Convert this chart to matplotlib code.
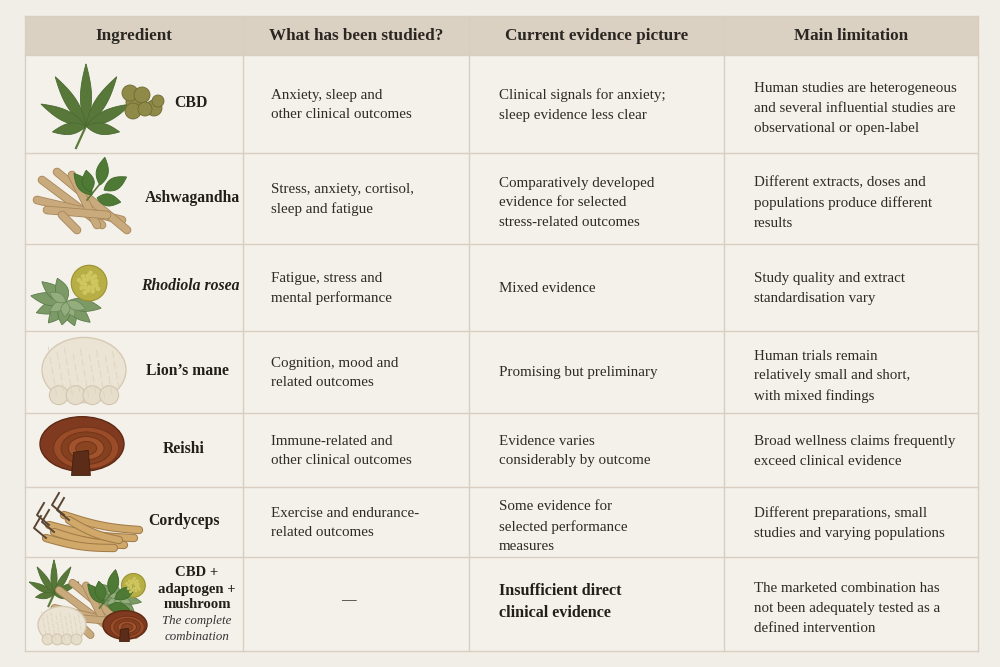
import numpy as np
import matplotlib
matplotlib.use("Agg")
import matplotlib.pyplot as plt
from matplotlib.patches import Rectangle, Ellipse, Polygon, Circle

# ---------------- data ----------------
headers = ["Ingredient", "What has been studied?", "Current evidence picture", "Main limitation"]
ingredients = ["CBD", "Ashwagandha", "Rhodiola rosea", "Lion\u2019s mane", "Reishi", "Cordyceps",
               "CBD +\nadaptogen +\nmushroom"]
combo_note = "The complete\ncombination"
studied = ["Anxiety, sleep and\nother clinical outcomes",
           "Stress, anxiety, cortisol,\nsleep and fatigue",
           "Fatigue, stress and\nmental performance",
           "Cognition, mood and\nrelated outcomes",
           "Immune-related and\nother clinical outcomes",
           "Exercise and endurance-\nrelated outcomes",
           "\u2014"]
evidence = ["Clinical signals for anxiety;\nsleep evidence less clear",
            "Comparatively developed\nevidence for selected\nstress-related outcomes",
            "Mixed evidence",
            "Promising but preliminary",
            "Evidence varies\nconsiderably by outcome",
            "Some evidence for\nselected performance\nmeasures",
            "Insufficient direct\nclinical evidence"]
limitation = ["Human studies are heterogeneous\nand several influential studies are\nobservational or open-label",
              "Different extracts, doses and\npopulations produce different\nresults",
              "Study quality and extract\nstandardisation vary",
              "Human trials remain\nrelatively small and short,\nwith mixed findings",
              "Broad wellness claims frequently\nexceed clinical evidence",
              "Different preparations, small\nstudies and varying populations",
              "The marketed combination has\nnot been adequately tested as a\ndefined intervention"]

# ---------------- layout ----------------
W, H = 1000, 667
fig = plt.figure(figsize=(10, 6.67), dpi=100)
ax = fig.add_axes([0, 0, 1, 1])
ax.set_xlim(0, W)
ax.set_ylim(H, 0)
ax.axis("off")
BG = "#f1eee7"
fig.patch.set_facecolor(BG)

x_edges = [25, 243, 469, 724, 978]
y_edges = [16, 55, 153, 244, 331, 413, 487, 557, 651]
LINE = "#d8cfc2"
TXT = "#2e2b27"
SERIF = ["Liberation Serif", "DejaVu Serif"]
LS = 1.66
OFF = {1: 0.5, 2: 1.0, 3: 4.5}

# table body & header
ax.add_patch(Rectangle((x_edges[0], y_edges[1]), x_edges[-1] - x_edges[0], y_edges[-1] - y_edges[1],
                       facecolor="#f4f1ea", edgecolor="none", zorder=1))
ax.add_patch(Rectangle((x_edges[0], y_edges[0]), x_edges[-1] - x_edges[0], y_edges[1] - y_edges[0],
                       facecolor="#dad1c3", edgecolor="none", zorder=1))
for x in x_edges:
    ax.plot([x, x], [y_edges[0], y_edges[-1]], color=LINE, lw=1.0, zorder=2)
for y in y_edges:
    ax.plot([x_edges[0], x_edges[-1]], [y, y], color=LINE, lw=1.0, zorder=2)

# headers
for i, h in enumerate(headers):
    ax.text((x_edges[i] + x_edges[i + 1]) / 2, (y_edges[0] + y_edges[1]) / 2 + 1, h,
            ha="center", va="center", fontsize=12.3, fontweight="bold", color="#2a2621",
            family=SERIF, zorder=5)


def body(x, yc, s, **kw):
    n = s.count("\n") + 1
    ax.text(x, yc + OFF[n], s, ha="left", va="center", fontsize=10.8, color=TXT,
            family=SERIF, linespacing=LS, zorder=5, **kw)


name_x = [191, 192, 190, 187, 184, 184, 197]
col_left = [271, 499, 754]
for r in range(7):
    yc = (y_edges[r + 1] + y_edges[r + 2]) / 2
    if r < 6:
        ax.text(name_x[r], yc - 1, ingredients[r], ha="center", va="center", fontsize=11.3,
                fontweight="bold", fontstyle="italic" if r == 2 else "normal",
                color="#221f1b", family=SERIF, zorder=5)
    else:
        ax.text(name_x[r], 589, ingredients[r], ha="center", va="center", fontsize=10.6,
                fontweight="bold", color="#221f1b", family=SERIF, linespacing=1.3, zorder=5)
        ax.text(name_x[r], 629, combo_note, ha="center", va="center", fontsize=9.3,
                fontstyle="italic", color="#333", family=SERIF, linespacing=1.45, zorder=5)
    # column 2
    if r < 6:
        body(col_left[0], yc, studied[r])
    else:
        ax.text(348, yc - 3, studied[r], ha="center", va="center", fontsize=10.5,
                color=TXT, family=SERIF, zorder=5)
    # column 3
    if r < 6:
        body(col_left[1], yc, evidence[r])
    else:
        ax.text(col_left[1], yc - 2, evidence[r], ha="left", va="center", fontsize=11.6,
                fontweight="bold", color="#221f1b", family=SERIF, linespacing=1.45, zorder=5)
    # column 4
    body(col_left[2], yc, limitation[r])


# ---------------- simple illustrations ----------------
def leaf(x0, y0, ang_deg, L, w, color, z=3, ec=None):
    t = np.linspace(0, 1, 30)
    a = np.radians(ang_deg)
    dx, dy = np.sin(a), -np.cos(a)
    px, py = -dy, dx
    half = w * np.sin(np.pi * t) ** 0.9 * (1 - 0.3 * t)
    xs = np.concatenate([x0 + dx * L * t + px * half, (x0 + dx * L * t - px * half)[::-1]])
    ys = np.concatenate([y0 + dy * L * t + py * half, (y0 + dy * L * t - py * half)[::-1]])
    ax.add_patch(Polygon(np.c_[xs, ys], closed=True, facecolor=color,
                         edgecolor=ec if ec else color, lw=0.6, zorder=z))


def cannabis(x0, y0, s=1.0, z=3):
    ax.plot([x0, x0 - 10 * s], [y0, y0 + 22 * s], color="#5f7b3c", lw=1.6, zorder=z)
    for ang, L in [(0, 62), (-32, 58), (32, 58), (-64, 50), (64, 50), (-100, 34), (100, 34)]:
        leaf(x0, y0, ang, L * s, 6.5 * s, "#58783a", z=z, ec="#4a6a30")


def bud(x0, y0, s=1.0, z=3):
    rng = [(0, 0, 10), (-6, -9, 8), (6, -7, 8), (-3, 9, 8), (18, 6, 8), (22, -1, 6), (9, 7, 7)]
    for dx, dy, r in rng:
        ax.add_patch(Circle((x0 + dx * s, y0 + dy * s), r * s, facecolor="#8f8a48",
                            edgecolor="#6e6a34", lw=0.6, zorder=z))


def root(x1, y1, x2, y2, lw=5, z=3, color="#c9aa7d"):
    ax.plot([x1, x2], [y1, y2], color="#a8875a", lw=lw + 1.2, solid_capstyle="round", zorder=z)
    ax.plot([x1, x2], [y1, y2], color=color, lw=lw, solid_capstyle="round", zorder=z)


def ashwagandha(ox, oy, s=1.0, z=3):
    sticks = [(-40, -20, 20, 25), (-45, 0, 40, 20), (-25, -28, 45, 30), (-10, -25, 15, 25),
              (-35, 10, 25, 15), (-20, 15, -5, 30)]
    for a, b, c, d in sticks:
        root(ox + a * s, oy + b * s, ox + c * s, oy + d * s, lw=5 * s, z=z)
    ax.plot([ox + 5 * s, ox + 25 * s], [oy, oy - 25 * s], color="#5c7a3a", lw=1.2, zorder=z + 1)
    for x0, y0, ang, L in [(ox + 10 * s, oy - 5 * s, -40, 28), (ox + 18 * s, oy - 15 * s, 10, 28),
                           (ox + 22 * s, oy - 10 * s, 60, 26), (ox + 15 * s, oy - 2 * s, 100, 24),
                           (ox + 8 * s, oy - 8 * s, -10, 22)]:
        leaf(x0, y0, ang, L * s, 7 * s, "#4f7a35", z=z + 1, ec="#3f6a2a")


def rhodiola(ox, oy, s=1.0, z=3):
    for ang, L in [(-110, 30), (-80, 34), (-50, 30), (-140, 26), (160, 24), (130, 30),
                   (100, 34), (-170, 22), (-20, 24)]:
        leaf(ox, oy, ang, L * s, 7 * s, "#7b9a66", z=z, ec="#5e7d4e")
    for ang, L in [(-120, 18), (-60, 18), (150, 16), (110, 20), (-175, 14)]:
        leaf(ox, oy, ang, L * s, 5 * s, "#94ad7c", z=z + 1, ec="#6f8a5d")
    fx, fy = ox + 22 * s, oy - 18 * s
    ax.add_patch(Circle((fx, fy), 17 * s, facecolor="#b7ae45", edgecolor="#9a9230", lw=0.8, zorder=z + 2))
    for k in range(22):
        a = 2 * np.pi * k / 22
        rr = 10 * s * (0.4 + 0.6 * ((k * 7) % 5) / 4)
        ax.add_patch(Circle((fx + rr * np.cos(a), fy + rr * np.sin(a)), 2.2 * s,
                            facecolor="#cfc660", edgecolor="none", zorder=z + 3))


def lions_mane(ox, oy, s=1.0, z=3):
    ax.add_patch(Ellipse((ox, oy), 80 * s, 62 * s, facecolor="#ebe3d3", edgecolor="#d6cab4",
                         lw=1.0, zorder=z))
    for k in range(4):
        ax.add_patch(Ellipse((ox - 24 * s + 16 * k * s, oy + 24 * s), 18 * s, 18 * s,
                             facecolor="#e6ddcb", edgecolor="#d3c6ae", lw=0.8, zorder=z))
    for k in range(40):
        xx = ox - 34 * s + 68 * s * ((k * 37) % 40) / 40
        yy = oy - 22 * s + 44 * s * ((k * 13) % 40) / 40
        ax.plot([xx, xx + 1], [yy, yy + 6 * s], color="#ddd3c0", lw=0.6, zorder=z + 1)


def reishi(ox, oy, s=1.0, z=3):
    ax.add_patch(Ellipse((ox, oy), 80 * s, 52 * s, facecolor="#7f3a1f", edgecolor="#5f2a15",
                         lw=1.0, zorder=z))
    for k, c in enumerate(["#9a4b27", "#84401f", "#a0532c", "#8a4422"]):
        ax.add_patch(Ellipse((ox + 4 * s, oy + 4 * s), (62 - 14 * k) * s, (40 - 9 * k) * s,
                             facecolor=c, edgecolor="#6e3219", lw=0.6, zorder=z + 1))
    ax.add_patch(Polygon([[ox - 8 * s, oy + 8 * s], [ox + 6 * s, oy + 6 * s],
                          [ox + 8 * s, oy + 30 * s], [ox - 10 * s, oy + 30 * s]],
                         closed=True, facecolor="#5b2c18", edgecolor="#40200f", lw=0.6, zorder=z + 2))


def cordyceps(ox, oy, s=1.0, z=3):
    specs = [(-45, 5, 40, 18), (-40, 12, 30, 25), (-30, -5, 45, 10), (-48, 18, 20, 28), (-25, 0, 25, 20)]
    for a, b, c, d in specs:
        xs = np.linspace(ox + a * s, ox + c * s, 20)
        ys = np.linspace(oy + b * s, oy + d * s, 20) + 3 * s * np.sin(np.linspace(0, np.pi, 20))
        ax.plot(xs, ys, color="#a27c48", lw=6 * s, solid_capstyle="round", zorder=z)
        ax.plot(xs, ys, color="#d0a86a", lw=4.5 * s, solid_capstyle="round", zorder=z)
        ax.plot([ox + a * s, ox + (a - 12) * s, ox + (a - 5) * s],
                [oy + b * s, oy + (b - 10) * s, oy + (b - 22) * s],
                color="#5a4532", lw=1.4 * s, zorder=z)


cannabis(86, 126, 1.0)
bud(136, 102, 1.0)
ashwagandha(82, 200, 1.0)
rhodiola(66, 302, 1.05)
lions_mane(84, 370, 1.05)
reishi(82, 444, 1.05)
cordyceps(94, 520, 1.0)

# combination illustration
cannabis(54, 594, 0.55)
rhodiola(118, 598, 0.7)
ashwagandha(95, 608, 0.9, z=4)
lions_mane(62, 625, 0.6, z=5)
reishi(125, 625, 0.55, z=6)

fig.savefig("out.png", dpi=100, facecolor=BG)
